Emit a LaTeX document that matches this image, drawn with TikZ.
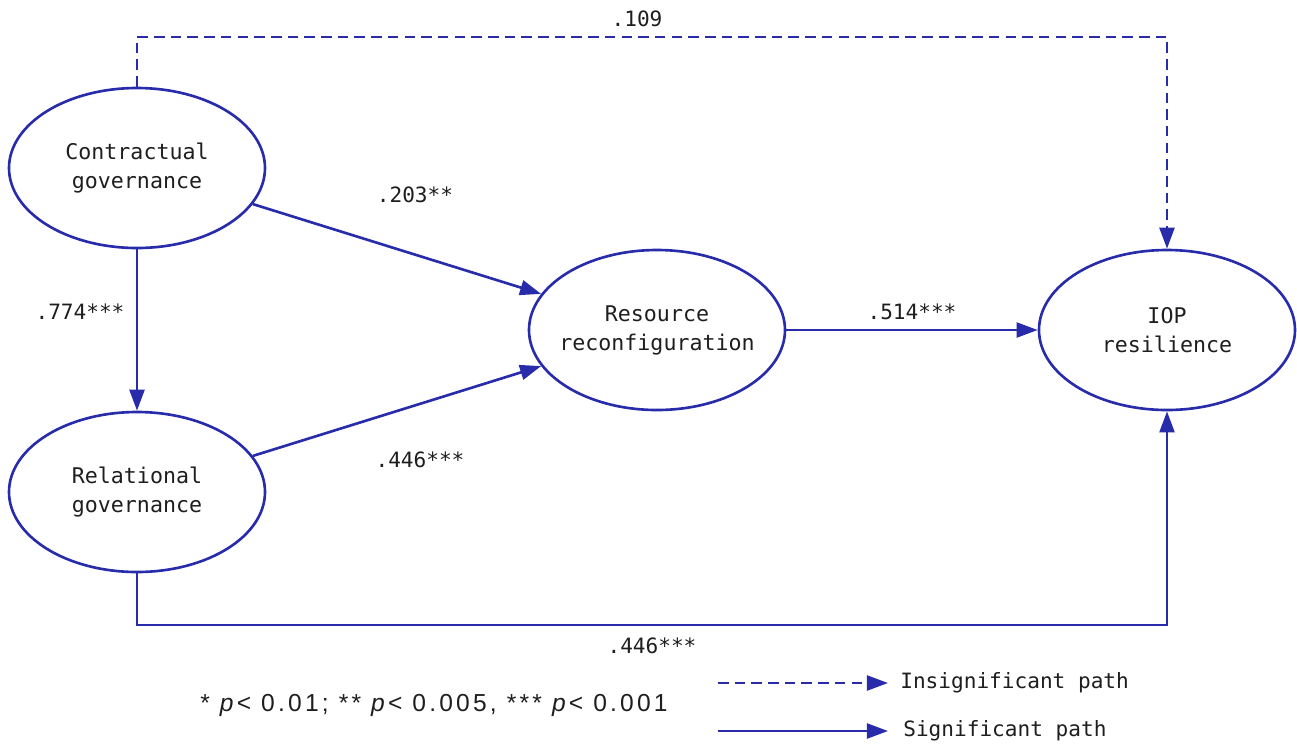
\documentclass[tikz,border=0pt]{standalone}
\usepackage{fontspec}
\setmonofont{DejaVu Sans Mono}
\newfontfamily\notefont[LetterSpace=13]{Liberation Sans}
\usetikzlibrary{shapes.geometric,arrows.meta}
\definecolor{pathblue}{RGB}{40,44,170}
\definecolor{inkgray}{RGB}{30,30,30}

\begin{document}
\begin{tikzpicture}[
    latent/.style={draw=pathblue, line width=1.5pt, ellipse, minimum width=5.12cm,
        minimum height=3.2cm, inner xsep=-1cm, inner ysep=0pt, align=center,
        text=inkgray, font=\ttfamily\fontsize{12.3}{16.5}\selectfont},
    sig/.style={draw=pathblue, line width=1.5pt, -{Triangle[length=12pt,width=8.5pt]}},
    insig/.style={sig, dash pattern=on 6pt off 3.5pt},
    coef/.style={text=inkgray, font=\ttfamily\fontsize{12}{14}\selectfont}
]
    \useasboundingbox (0,0) rectangle (25.94,-14.88);
    % latent variables
    \node[latent] (cg) at (2.74,-3.36) {Contractual\\governance};
    \node[latent] (rg) at (2.74,-9.84) {Relational\\governance};
    \node[latent] (rr) at (13.14,-6.6) {Resource\\reconfiguration};
    \node[latent] (iop) at (23.34,-6.6) {IOP\\resilience};
    \coordinate (top) at (13,-0.74);
    \coordinate (bot) at (13,-12.5);
    % paths
    \draw[insig] (cg.north) |- (top) -| (iop.north);
    \draw[sig] (cg) -- (rg);
    \draw[sig] (cg) -- (rr);
    \draw[sig] (rg) -- (rr);
    \draw[sig] (rr) -- (iop);
    \draw[sig] (rg.south) |- (bot) -| (iop.south);
    % coefficients
    \node[coef] (c109) at (12.74,-0.38) {.109};
    \node[coef] (c774) at (1.6,-6.24) {.774***};
    \node[coef] (c203) at (8.3,-3.9) {.203**};
    \node[coef] (c446a) at (8.4,-9.2) {.446***};
    \node[coef] (c514) at (18.24,-6.24) {.514***};
    \node[coef] (c446b) at (13.04,-12.92) {.446***};
    % legend
    \node[text=inkgray, font=\notefont\fontsize{14}{16}\selectfont] (note) at (8.68,-14.1)
        {* \textit{p}< 0.01; ** \textit{p}< 0.005, *** \textit{p}< 0.001};
    \coordinate (ia) at (14.36,-13.66);
    \coordinate (sa) at (14.36,-14.62);
    \node[coef, anchor=west, inner sep=0pt] (itext) at (18.0,-13.66) {Insignificant path};
    \node[coef, anchor=west, inner sep=0pt] (stext) at (18.06,-14.62) {Significant path};
    \draw[insig] (ia) -- (ia -| 17.76,0);
    \draw[sig] (sa) -- (sa -| 17.76,0);
\end{tikzpicture}
\end{document}
